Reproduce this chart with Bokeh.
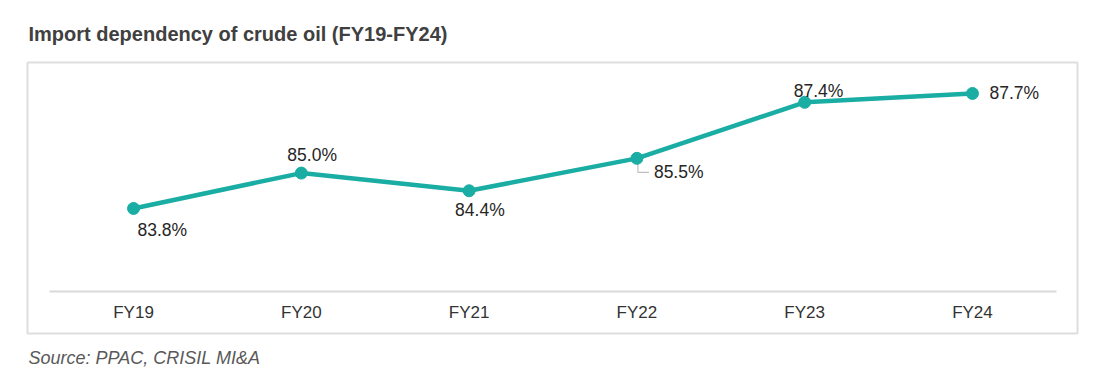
from bokeh.plotting import figure
from bokeh.models import Range1d, LinearAxis, FixedTicker, Title, ColumnDataSource
from bokeh.core.properties import value
from bokeh.embed import file_html
from bokeh.resources import INLINE

# ---- data ----
categories = ["FY19", "FY20", "FY21", "FY22", "FY23", "FY24"]
import_dependency = [83.8, 85.0, 84.4, 85.5, 87.4, 87.7]
value_labels = ["83.8%", "85.0%", "84.4%", "85.5%", "87.4%", "87.7%"]

# ---- label placement (pixels, style only; dy positive = up) ----
label_dx = [4, -14, -14, 17, -11, 17]
label_dy = [-22, 18, -19, -14, 11, 0]

TEAL = "#1AADA3"
FONT = "Liberation Sans"

W, H = 1089, 381
x_start, x_end = -0.632, 5.626
y_start, y_end = 79.56, 88.75
ml, mr, mt, mb = 27, 12, 62, 48
frame_w = W - ml - mr
frame_h = H - mt - mb

p = figure(width=W, height=H, output_backend="svg", toolbar_location=None,
           x_range=Range1d(x_start, x_end), y_range=Range1d(y_start, y_end),
           x_axis_location=None, y_axis_location=None,
           min_border_left=ml, min_border_right=mr, min_border_top=mt, min_border_bottom=mb)
p.grid.visible = False
p.outline_line_color = "#DEDEDE"
p.outline_line_width = 2
p.background_fill_color = "white"
p.border_fill_color = "white"

# title
p.title.text = "Import dependency of crude oil (FY19-FY24)"
p.title.text_font = FONT
p.title.text_font_size = "20px"
p.title.text_font_style = "bold"
p.title.text_color = "#404040"
p.title.align = "left"
p.title.offset = 1
p.title.standoff = 35

# source
src_title = Title(text="Source: PPAC, CRISIL MI&A", text_font=FONT, text_font_size="18px",
                  text_font_style="italic", text_color="#595959", align="left", offset=1,
                  standoff=24)
p.add_layout(src_title, "below")

# x axis inside the frame
xs = list(range(len(categories)))
xaxis = LinearAxis(fixed_location=81.0, bounds=(-0.5, len(categories) - 0.5),
                   ticker=FixedTicker(ticks=xs),
                   major_label_overrides={i: c for i, c in enumerate(categories)})
xaxis.axis_line_color = "#D9D9D9"
xaxis.axis_line_width = 2
xaxis.major_tick_line_color = None
xaxis.minor_tick_line_color = None
xaxis.major_tick_out = 0
xaxis.major_tick_in = 0
xaxis.major_label_standoff = 12
xaxis.major_label_text_font = FONT
xaxis.major_label_text_font_size = "17px"
xaxis.major_label_text_color = "#333333"
p.add_layout(xaxis, "below")

src = ColumnDataSource(dict(x=xs, y=import_dependency, lab=value_labels,
                            dx=label_dx, dy=[-d for d in label_dy]))

# leader line for FY22 label (pixel offsets converted through the scale)
px_x = (x_end - x_start) / frame_w
px_y = (y_end - y_start) / frame_h
i22 = categories.index("FY22")
lx = xs[i22] + 1 * px_x
ly = import_dependency[i22]
p.line([lx, lx, lx + 11 * px_x], [ly - 4 * px_y, ly - 14 * px_y, ly - 14 * px_y],
       line_color="#BFBFBF", line_width=1.2)

p.line("x", "y", source=src, line_color=TEAL, line_width=4.5)
p.scatter("x", "y", source=src, size=12, fill_color=TEAL, line_color=TEAL)

p.text("x", "y", text="lab", source=src, x_offset="dx", y_offset="dy",
       text_font=value(FONT), text_font_size="17.5px", text_color="#262626",
       text_align="left", text_baseline="middle")

open("out.html", "w").write(file_html(p, INLINE))
